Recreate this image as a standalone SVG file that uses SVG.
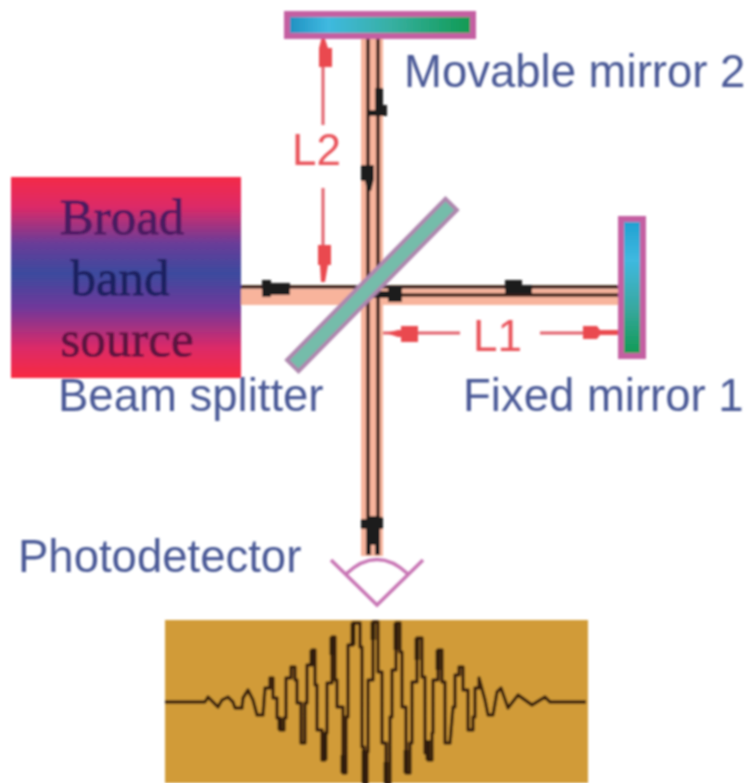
<svg xmlns="http://www.w3.org/2000/svg" width="752" height="783" viewBox="0 0 752 783">
<defs>
<linearGradient id="gH" x1="0" y1="0" x2="1" y2="0"><stop offset="0" stop-color="#1f8fbf"/><stop offset=".22" stop-color="#3fb9e0"/><stop offset=".55" stop-color="#38b0a4"/><stop offset="1" stop-color="#0f9a50"/></linearGradient>
<linearGradient id="gV" x1="0" y1="0" x2="0" y2="1"><stop offset="0" stop-color="#1f9fd0"/><stop offset=".3" stop-color="#3fb9e0"/><stop offset=".65" stop-color="#38a8a0"/><stop offset="1" stop-color="#0f9a50"/></linearGradient>
<linearGradient id="gS" x1="0" y1="0" x2="0" y2="1"><stop offset="0" stop-color="#f42a48"/><stop offset=".15" stop-color="#dc2a68"/><stop offset=".33" stop-color="#6a3c98"/><stop offset=".48" stop-color="#3c4a9e"/><stop offset=".65" stop-color="#70389a"/><stop offset=".85" stop-color="#dc2a68"/><stop offset="1" stop-color="#f82c40"/></linearGradient>
<filter id="soft" filterUnits="userSpaceOnUse" x="0" y="0" width="752" height="783"><feGaussianBlur stdDeviation="0.9"/></filter>
</defs>
<style>
.lbl{font-family:"Liberation Sans",Arial,sans-serif;font-size:45.5px;fill:#485996}
.red{font-family:"Liberation Sans",Arial,sans-serif;font-size:44px;fill:#e9525a}
.src{font-family:"Liberation Serif","Times New Roman",serif;font-size:51px;stroke-width:.8px}
.mir{stroke:#c45ea2;stroke-width:6}
.beam{fill:#f8b49c}
.ray{stroke:#3a1c14;stroke-width:3.6;fill:none}
.blob{fill:#1e1c1a}
.dim{stroke:#e2606a;stroke-width:3;fill:none}
.dimh{fill:#ea4a50}
</style>
<rect width="752" height="783" fill="#ffffff"/>
<g filter="url(#soft)">
<g id="connectors">
<rect class="beam" x="361" y="38" width="22" height="518"/>
<rect class="beam" x="241" y="289" width="377" height="16"/>
<path class="ray" d="M368 36V555M378 36V555M241 287H618M372 295H618"/>
<path class="blob" d="M375 88h8v17h4v11h-19v-6h7z"/>
<path class="blob" d="M361 165h13v14l-3 12h-4l-2-10h-4z"/>
<path class="blob" d="M262 280h9v3h19v12h-19v2h-9z"/>
<path class="blob" d="M402 286v16h-14v-4h-18v-7h18v-5z"/>
<path class="blob" d="M505 280h17v5h10v9h-27z"/>
<path class="blob" d="M361 519h6l3-3h8l3 1h2v12h-3v26h-5v-10h-4v10h-5v-26h-5z"/>
<g id="dimensions">
<path class="dim" d="M323 38V125M323 188V282M383 333H460M540 333H618"/>
<path class="dimh" d="M323 33l5 15h4v19h-13V48z"/>
<path class="dimh" d="M318 245h13v20h-3l-3 17h-4l-1-17h-2z"/>
<path class="dimh" d="M386 333l12-3h3v-4h17v16h-17v-5h-3z"/>
<path class="dimh" d="M583 326h14l3 4h18v5h-18l-3 4h-14z"/>
</g>
</g>
<g id="mirror2"><rect class="mir" x="287" y="14" width="186" height="22" fill="url(#gH)"/></g>
<g id="mirror1"><rect class="mir" x="621" y="219" width="22" height="137" fill="url(#gV)"/></g>
<g id="splitter"><rect x="-113" y="-8" width="226" height="16" transform="translate(372 285) rotate(-45.5)" fill="#74bcaa" stroke="#ae86ae" stroke-width="4"/></g>
<g id="source"><rect x="11" y="177" width="230" height="201" fill="url(#gS)"/>
<text class="src" x="122" y="234" text-anchor="middle" fill="#4a1a60" stroke="#4a1a60">Broad</text>
<text class="src" x="120" y="295" text-anchor="middle" fill="#1c2060" stroke="#1c2060">band</text>
<text class="src" x="127" y="356" text-anchor="middle" fill="#5c1240" stroke="#5c1240">source</text></g>
<g id="photodetector"><path d="M331 560L377 605L423 560M346 574Q377 545 408 574" fill="none" stroke="#c874b4" stroke-width="3.5"/></g>
<g id="signal"><rect x="165" y="620" width="423" height="163" fill="#d19b38"/>
<path fill="none" stroke="#3a2110" stroke-width="3.4" stroke-linejoin="round" d="M165 702H205L208 697L213 702L218 707L222 700L228 697L233 702L235 708H242L243 698L248 690L253 700L257 715H263L265 688H270V678H273V698H277V718H280V730H284V718H286V678H291V667H295V680H297V703H301V743H305V703H307V665H312V650H315V685H317V730H322V760H325V733H327V683H332V637H335V680H337V707H343V773H346V717H348V645H353V623H360V647H362V747H364V783H367V752H368V680H373V622H378V672H382V743H386V783H390V717H392V670H396V623H400V652H402V707H406V773H410V743H412V682H417V638H422V677H425V753H428V760H432V733H433V680H438V650H442V682H445V743H450L453 707H455V675H459V667H463V690H468V730H473V717H475V688H479V678L485 700L488 715H493L497 692L501 688L508 708L518 695L532 705L545 697L550 702H586"/>
<path fill="none" stroke="#2e1a0c" stroke-width="5" d="M353 623V645M373 622V640M396 623V650M417 638V660M438 650V670M312 650V665M332 637V655M325 733V760M343 755V773M364 750V783M386 762V783M406 750V773M428 740V760M280 718V730"/></g>
<text class="lbl" x="404" y="87">Movable mirror 2</text>
<text class="lbl" x="58" y="411">Beam splitter</text>
<text class="lbl" x="463" y="411">Fixed mirror 1</text>
<text class="lbl" x="18" y="572">Photodetector</text>
<text class="red" x="292" y="165">L2</text>
<text class="red" x="473" y="351">L1</text>
</g>
</svg>
